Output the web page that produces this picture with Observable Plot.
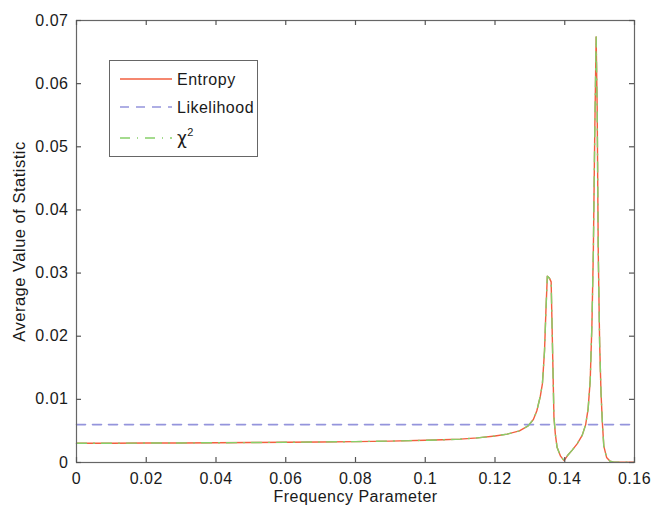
<!DOCTYPE html>
<html><head><meta charset="utf-8">
<script src="https://cdn.jsdelivr.net/npm/d3@7"></script>
<script src="https://cdn.jsdelivr.net/npm/@observablehq/plot@0.6"></script>
<style>
body{margin:0;background:#fff;}
#wrap{position:relative;width:653px;height:506px;}
#legend{position:absolute;left:109px;top:60px;}
</style></head><body><div id="wrap"></div>
<script>
const freq = [0, 0.01, 0.02, 0.03, 0.04, 0.05, 0.06, 0.07, 0.08, 0.09, 0.10, 0.105, 0.11, 0.115, 0.12, 0.1235, 0.127, 0.1295, 0.131, 0.132, 0.133, 0.1336, 0.1342, 0.1346, 0.1350, 0.1356, 0.1361, 0.1365, 0.1369, 0.1373, 0.1378, 0.1388, 0.1398, 0.1408, 0.1422, 0.1436, 0.1450, 0.1460, 0.1467, 0.1473, 0.1478, 0.1482, 0.1486, 0.1490, 0.1493, 0.1496, 0.1500, 0.1504, 0.1508, 0.1512, 0.1520, 0.1530, 0.1540, 0.1600];
const entropy = [0.00305, 0.00306, 0.00308, 0.0031, 0.00313, 0.00316, 0.0032, 0.00325, 0.00331, 0.00339, 0.00352, 0.0036, 0.0037, 0.0039, 0.0042, 0.0045, 0.0050, 0.0058, 0.0068, 0.0082, 0.0105, 0.0125, 0.0177, 0.0240, 0.0295, 0.0292, 0.0286, 0.0180, 0.0072, 0.0045, 0.0024, 0.0010, 0.0003, 0.0011, 0.0020, 0.0030, 0.0043, 0.0060, 0.0085, 0.0130, 0.0220, 0.0335, 0.0520, 0.0674, 0.0560, 0.0335, 0.0190, 0.0110, 0.0062, 0.0026, 0.0008, 0.0002, 0.00005, 0.00003];
const chiSquare = [0.00305, 0.00306, 0.00308, 0.0031, 0.00313, 0.00316, 0.0032, 0.00325, 0.00331, 0.00339, 0.00352, 0.0036, 0.0037, 0.0039, 0.0042, 0.0045, 0.0050, 0.0058, 0.0068, 0.0082, 0.0105, 0.0125, 0.0177, 0.0240, 0.0295, 0.0292, 0.0286, 0.0180, 0.0072, 0.0045, 0.0024, 0.0010, 0.0003, 0.0011, 0.0020, 0.0030, 0.0043, 0.0060, 0.0085, 0.0130, 0.0220, 0.0335, 0.0520, 0.0674, 0.0560, 0.0335, 0.0190, 0.0110, 0.0062, 0.0026, 0.0008, 0.0002, 0.00005, 0.00003];
const likelihoodFreq = [0, 0.16];
const likelihood = [0.006, 0.006];

const xTicks = [0, 0.02, 0.04, 0.06, 0.08, 0.1, 0.12, 0.14, 0.16];
const xTickLabels = ["0", "0.02", "0.04", "0.06", "0.08", "0.1", "0.12", "0.14", "0.16"];
const yTicks = [0, 0.01, 0.02, 0.03, 0.04, 0.05, 0.06, 0.07];
const yTickLabels = ["0", "0.01", "0.02", "0.03", "0.04", "0.05", "0.06", "0.07"];
const seriesNames = ["Entropy", "Likelihood", "χ"];
const seriesColors = ["#f25f3f", "#9494dc", "#86cf69"];
const seriesDash = [null, "9,7", "10,7,1,7"];
const xLabel = "Frequency Parameter";
const yLabel = "Average Value of Statistic";

const entropyData = freq.map((f, i) => ({f, v: entropy[i]}));
const chiData = freq.map((f, i) => ({f, v: chiSquare[i]}));
const likeData = likelihoodFreq.map((f, i) => ({f, v: likelihood[i]}));

const xDomain = [0, 0.16], yDomain = [0, 0.07];
const W = 653, H = 506, mL = 76, mR = 19, mT = 20, mB = 44;
const tickPx = 5;
const tlY = (yDomain[1] - yDomain[0]) * tickPx / (H - mT - mB);
const tlX = (xDomain[1] - xDomain[0]) * tickPx / (W - mL - mR);
const font = "'Liberation Sans', Arial, Helvetica, sans-serif";

const plot = Plot.plot({
  width: W, height: H,
  marginLeft: mL, marginRight: mR, marginTop: mT, marginBottom: mB,
  style: {fontFamily: font, fontSize: "16px", letterSpacing: "0.5px", color: "#1a1a1a", background: "#fff"},
  x: {domain: xDomain},
  y: {domain: yDomain},
  marks: [
    Plot.line(entropyData, {x: "f", y: "v", stroke: seriesColors[0], strokeWidth: 1.4}),
    Plot.line(likeData, {x: "f", y: "v", stroke: seriesColors[1], strokeWidth: 1.6, strokeDasharray: seriesDash[1]}),
    Plot.line(chiData, {x: "f", y: "v", stroke: seriesColors[2], strokeWidth: 1.4, strokeDasharray: seriesDash[2]}),
    Plot.frame({stroke: "#666", strokeWidth: 1.2}),
    Plot.ruleX(xTicks, {x: d => d, y1: yDomain[0], y2: yDomain[0] + tlY, stroke: "#555", strokeWidth: 1.2}),
    Plot.ruleX(xTicks, {x: d => d, y1: yDomain[1] - tlY, y2: yDomain[1], stroke: "#555", strokeWidth: 1.2}),
    Plot.ruleY(yTicks, {y: d => d, x1: xDomain[0], x2: xDomain[0] + tlX, stroke: "#555", strokeWidth: 1.2}),
    Plot.ruleY(yTicks, {y: d => d, x1: xDomain[1] - tlX, x2: xDomain[1], stroke: "#555", strokeWidth: 1.2}),
    Plot.axisX({ticks: xTicks, tickSize: 0, tickPadding: 10, tickFormat: d => xTickLabels[xTicks.indexOf(d)], label: null}),
    Plot.axisY({ticks: yTicks, tickSize: 0, tickPadding: 8, tickFormat: d => yTickLabels[yTicks.indexOf(d)], label: null}),
    Plot.text([xLabel], {frameAnchor: "bottom", dy: 28, lineAnchor: "top", textAnchor: "middle", text: d => d, fontSize: 16}),
    Plot.text([yLabel], {frameAnchor: "left", dx: -63, rotate: -90, lineAnchor: "top", textAnchor: "middle", text: d => d, fontSize: 16.5})
  ]
});

const wrap = document.getElementById("wrap");
wrap.appendChild(plot);

// legend
const lg = d3.select(wrap).append("div").attr("id", "legend")
  .append("svg").attr("width", 150).attr("height", 98)
  .style("font-family", font).style("font-size", "16px").style("letter-spacing", "0.5px");
lg.append("rect").attr("x", 0.5).attr("y", 0.5).attr("width", 148).attr("height", 96)
  .attr("fill", "#fff").attr("stroke", "#666");
const rowY = [19, 47, 78];
seriesNames.forEach((name, i) => {
  lg.append("line").attr("x1", 11).attr("x2", 63).attr("y1", rowY[i]).attr("y2", rowY[i])
    .attr("stroke", seriesColors[i]).attr("stroke-width", 1.5)
    .attr("stroke-dasharray", seriesDash[i]);
  const t = lg.append("text").attr("x", 68).attr("y", rowY[i] + 5.5).attr("fill", "#1a1a1a");
  if (i === 2) {
    t.append("tspan").attr("font-family", "'DejaVu Sans', sans-serif").attr("font-size", 17).text(name);
    t.append("tspan").attr("dy", -8).attr("font-size", 11).text("2");
  } else {
    t.text(name);
  }
});
</script>
</body></html>
